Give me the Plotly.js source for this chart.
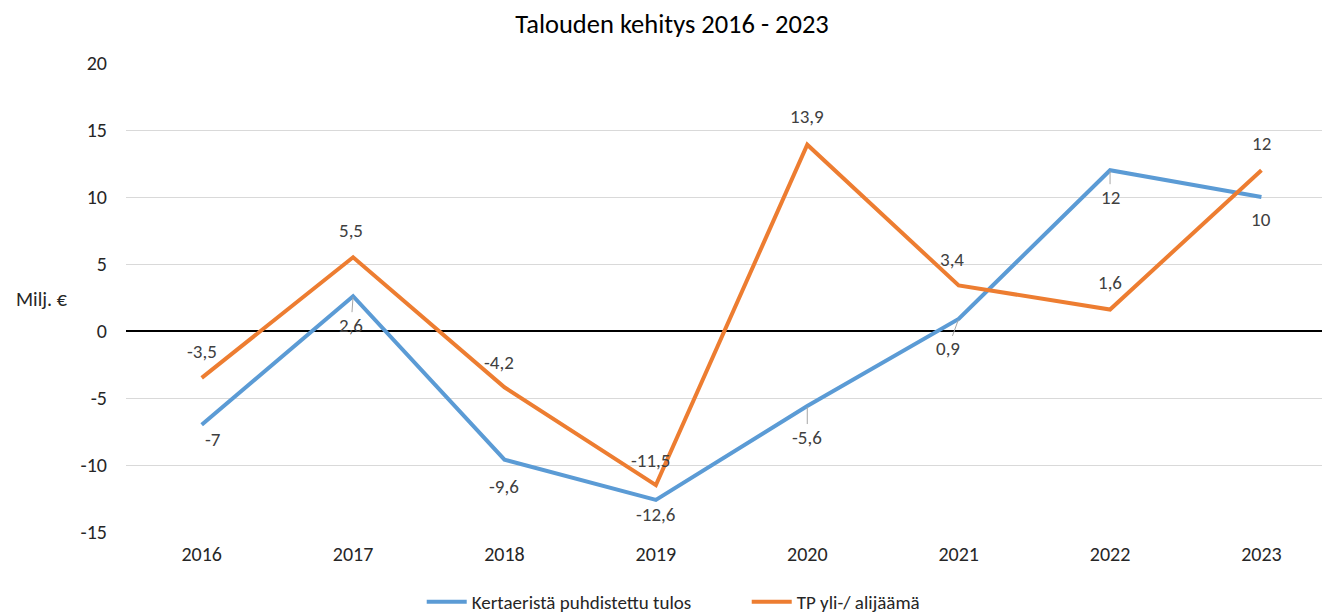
<!DOCTYPE html>
<html>
<head>
<meta charset="utf-8">
<script src="https://cdn.plot.ly/plotly-3.0.1.min.js"></script>
<style>html,body{margin:0;padding:0;background:#fff;}#chart{width:1323px;height:616px;}</style>
</head>
<body>
<div id="chart"></div>
<script>
var years = ['2016','2017','2018','2019','2020','2021','2022','2023'];
var puhdistettu = [-7, 2.6, -9.6, -12.6, -5.6, 0.9, 12, 10];
var tpYliAli = [-3.5, 5.5, -4.2, -11.5, 13.9, 3.4, 1.6, 12];
var seriesNames = ['Kertaeristä puhdistettu tulos', 'TP yli-/ alijäämä'];
var yTicks = [-15, -10, -5, 0, 5, 10, 15, 20];

var FONT = 'Calibri, Carlito, Lato, "Open Sans", sans-serif';
var BLUE = '#5B9BD5', ORANGE = '#ED7D31', LBL = '#404040', TXT = '#262626';

function fmt(v){ return String(v).replace('.', ','); }

var traces = [
  {x: years, y: puhdistettu, name: seriesNames[0], type: 'scatter', mode: 'lines',
   line: {color: BLUE, width: 4}, hoverinfo: 'skip'},
  {x: years, y: tpYliAli, name: seriesNames[1], type: 'scatter', mode: 'lines',
   line: {color: ORANGE, width: 4}, hoverinfo: 'skip'}
];

// label placement tweaks (style only, pixels)
var blueDx = [11, -2, 0, 0, 0, -11, 0, 0];
var blueDy = [-15, -29, -27, -15, -31, -30, -27, -22];
var blueLeader = [false, true, false, false, true, true, true, false];
var orgDx = [0, -2, -5, -5, 0, -7, 0, 0];
var orgDy = [26, 27, 25, 25, 28, 26, 27, 27];

var ann = [];
years.forEach(function(yr, i){
  var a = {x: i, y: puhdistettu[i], xref: 'x', yref: 'y', text: fmt(puhdistettu[i]),
    font: {family: FONT, size: 19, color: LBL}};
  if (blueLeader[i]) {
    a.showarrow = true; a.arrowhead = 0; a.arrowwidth = 1; a.arrowcolor = '#a6a6a6';
    a.ax = blueDx[i]; a.ay = -blueDy[i]; a.standoff = 1;
  } else {
    a.showarrow = false; a.xshift = blueDx[i]; a.yshift = blueDy[i];
  }
  ann.push(a);
  ann.push({x: i, y: tpYliAli[i], xref: 'x', yref: 'y', text: fmt(tpYliAli[i]), showarrow: false,
    xshift: orgDx[i], yshift: orgDy[i], font: {family: FONT, size: 19, color: LBL}});
});
ann.push({xref: 'paper', yref: 'y', x: 0, y: 2.4, xanchor: 'left', xshift: -112, text: 'Milj. €',
  showarrow: false, font: {family: FONT, size: 20, color: TXT}});

var layout = {
  width: 1323, height: 616,
  margin: {l: 126, r: 1, t: 63, b: 84, autoexpand: false},
  paper_bgcolor: '#fff', plot_bgcolor: '#fff',
  separators: ', ',
  title: {text: 'Talouden kehitys 2016 - 2023', x: 0.508, xref: 'container', xanchor: 'center', y: 0.962, yanchor: 'middle',
    font: {family: FONT, size: 26.5, color: '#000'}},
  xaxis: {type: 'category', range: [-0.5, 7.4], showgrid: false, zeroline: false, showline: false,
    ticks: '', ticklabelstandoff: 8, tickfont: {family: FONT, size: 20, color: TXT}, fixedrange: true},
  yaxis: {range: [-15, 20], tickvals: yTicks, ticktext: yTicks.map(String), showgrid: true, gridcolor: '#d9d9d9', gridwidth: 1,
    zeroline: true, zerolinecolor: '#000', zerolinewidth: 1.5, showline: false, ticks: '',
    ticklabelstandoff: 18, tickfont: {family: FONT, size: 20, color: TXT}, fixedrange: true},
  legend: {orientation: 'h', x: 0.519, xanchor: 'center', y: -0.149, yanchor: 'middle',
    font: {family: FONT, size: 19, color: TXT}, itemwidth: 40, tracegroupgap: 0,
    entrywidth: 270, entrywidthmode: 'pixels'},
  annotations: ann,
  showlegend: true
};

Plotly.newPlot('chart', traces, layout, {displayModeBar: false, staticPlot: true});
</script>
</body>
</html>
